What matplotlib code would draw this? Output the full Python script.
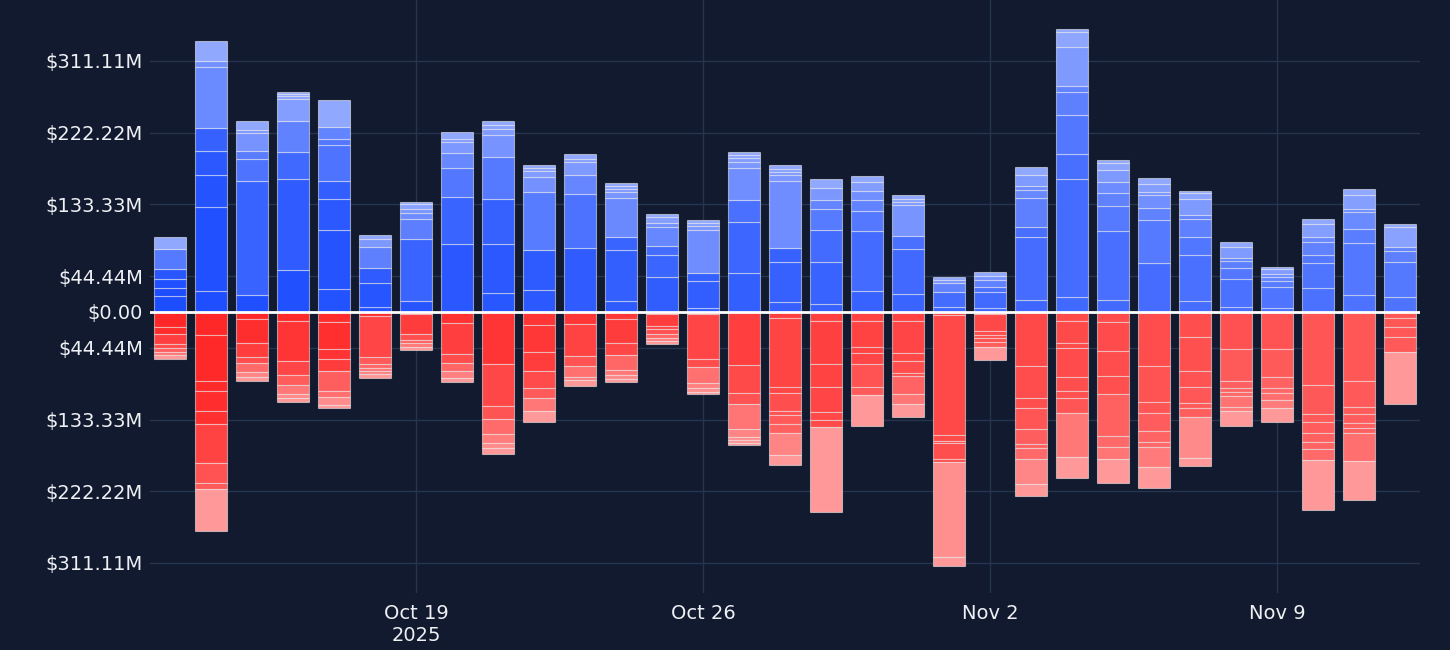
import numpy as np
import pandas as pd
import matplotlib
matplotlib.use("Agg")
import matplotlib.pyplot as plt
import matplotlib.dates as mdates
from matplotlib.ticker import FixedLocator, FuncFormatter

# Dias (um por barra)
dias = pd.date_range("2025-10-13", "2025-11-12", freq="D")

# Entradas (milhões de USD), segmentos empilhados a partir de zero
entradas = [
    [19.8, 9.5, 11.2, 12.4, 24.8, 14.9],
    [26.0, 103.8, 39.6, 29.8, 28.5, 75.6, 8.2, 24.8],
    [20.7, 141.3, 27.3, 9.9, 22.3, 3.7, 11.5],
    [52.1, 112.7, 33.1, 38.8, 27.7, 2.9, 2.9, 2.5],
    [28.5, 72.7, 39.3, 21.5, 44.6, 7.4, 14.9, 33.9],
    [6.6, 29.8, 17.8, 26.8, 9.1, 4.9],
    [13.6, 76.5, 25.2, 7.8, 5.0, 5.8, 2.4],
    [83.9, 59.0, 35.2, 18.6, 14.4, 2.9, 8.7],
    [23.1, 60.8, 55.8, 52.0, 27.7, 7.0, 5.4, 4.5],
    [27.3, 49.5, 71.6, 18.6, 7.4, 3.7, 3.7],
    [79.0, 67.3, 23.5, 15.7, 3.8, 6.5],
    [14.0, 62.5, 16.8, 47.6, 7.5, 3.7, 4.1, 3.7],
    [43.4, 27.6, 11.2, 23.2, 5.3, 7.4, 3.7],
    [5.4, 33.4, 9.2, 53.6, 5.0, 3.3, 3.7],
    [48.0, 63.2, 27.6, 39.3, 8.2, 4.2, 4.1, 4.1],
    [12.0, 49.6, 17.7, 82.7, 7.8, 3.4, 3.7, 5.3],
    [9.9, 52.1, 39.6, 26.1, 11.1, 15.3, 10.4],
    [26.0, 74.4, 25.2, 13.2, 11.5, 10.5, 7.4],
    [21.9, 56.2, 16.5, 37.6, 3.8, 4.1, 4.5],
    [5.8, 18.6, 11.2, 4.1, 3.7],
    [5.4, 19.4, 6.6, 8.3, 5.3, 4.2],
    [14.9, 78.4, 12.4, 35.2, 10.3, 5.3, 13.3, 10.3],
    [19.0, 145.5, 31.0, 48.7, 28.1, 8.2, 48.4, 18.2, 3.3],
    [14.9, 85.5, 30.6, 16.9, 13.2, 14.9, 9.1, 2.9],
    [61.1, 52.5, 15.7, 15.7, 4.1, 9.2, 7.4],
    [13.6, 56.7, 23.0, 21.6, 5.3, 19.5, 7.4, 2.9],
    [6.6, 34.3, 14.0, 8.3, 3.4, 14.4, 5.4],
    [4.6, 26.0, 7.8, 5.4, 3.3, 5.8, 3.2],
    [30.1, 30.3, 9.9, 16.1, 6.2, 16.5, 5.8],
    [20.7, 64.4, 17.4, 21.1, 4.1, 17.3, 7.1],
    [19.0, 42.6, 14.4, 5.0, 24.0, 3.7],
]

# Saídas (milhões de USD), empilhadas para baixo
saidas = [
    [18.2, 9.5, 12.4, 4.1, 5.0, 4.1, 5.4],
    [28.5, 56.6, 13.2, 24.4, 16.5, 48.0, 24.4, 8.2, 51.2],
    [9.1, 28.9, 17.4, 8.2, 10.8, 6.5, 4.2],
    [10.7, 50.4, 16.6, 13.2, 10.7, 5.0, 4.6],
    [12.0, 34.3, 12.0, 14.5, 25.1, 7.9, 9.8, 3.8],
    [5.0, 50.4, 9.4, 4.2, 4.1, 3.7, 4.6],
    [2.5, 25.2, 7.0, 4.1, 4.2, 4.1],
    [14.0, 38.1, 10.7, 10.7, 7.9, 5.8],
    [64.0, 52.5, 16.1, 18.2, 11.2, 7.0, 6.6],
    [16.1, 33.9, 23.5, 20.3, 12.4, 16.5, 13.2],
    [15.3, 39.2, 12.4, 13.3, 4.1, 7.0],
    [9.1, 29.7, 14.5, 18.6, 6.2, 4.9, 3.8],
    [2.5, 14.9, 4.1, 6.2, 4.1, 4.1, 3.3],
    [2.9, 55.8, 9.1, 20.6, 6.2, 4.2, 3.3],
    [65.7, 35.1, 13.6, 31.0, 9.2, 4.1, 3.3, 2.8],
    [7.9, 84.7, 8.2, 21.5, 5.4, 11.5, 10.4, 27.6, 12.4],
    [11.2, 53.6, 28.5, 30.3, 10.3, 8.3, 105.3],
    [11.2, 32.6, 6.6, 13.6, 28.6, 10.3, 38.0],
    [10.7, 40.5, 9.5, 14.5, 4.1, 22.3, 12.4, 16.1],
    [3.7, 148.8, 7.0, 3.2, 19.9, 2.9, 118.5, 10.4],
    [2.9, 20.2, 5.4, 4.1, 4.2, 6.2, 16.9],
    [66.5, 39.7, 13.2, 25.6, 19.0, 5.0, 13.2, 31.0, 14.5],
    [11.2, 26.8, 6.2, 36.0, 17.3, 9.5, 18.6, 54.5, 26.1],
    [12.4, 36.3, 31.0, 21.5, 52.1, 14.0, 14.5, 30.5],
    [66.9, 45.0, 13.7, 21.9, 14.0, 6.2, 24.0, 26.1],
    [31.4, 41.7, 19.5, 19.8, 7.0, 10.4, 50.8, 10.3],
    [46.3, 38.8, 9.5, 5.0, 4.1, 13.6, 5.4, 18.2],
    [46.3, 33.9, 14.4, 6.2, 8.3, 10.3, 17.4],
    [90.5, 36.3, 9.9, 13.6, 11.2, 8.3, 13.6, 62.0],
    [85.1, 33.0, 8.7, 11.2, 6.2, 6.1, 34.0, 49.1],
    [7.0, 12.0, 11.6, 18.6, 65.2],
]

# Marcas do eixo y e do eixo x
ticks_y = [-311.11, -222.22, -133.33, -44.44, 0.0, 44.44, 133.33, 222.22, 311.11]
ticks_x = ["2025-10-19", "2025-10-26", "2025-11-02", "2025-11-09"]
rotulos_x = ["Oct 19\n2025", "Oct 26", "Nov 2", "Nov 9"]

FUNDO = "#111a2e"
GRADE = "#27344f"
TEXTO = "#eef0f4"
AZUL_ESCURO = np.array([0.11, 0.30, 1.00])
AZUL_CLARO = np.array([0.57, 0.66, 1.00])
VERM_ESCURO = np.array([1.00, 0.15, 0.15])
VERM_CLARO = np.array([1.00, 0.60, 0.60])


def cor_segmento(escuro, claro, i_dia, fracao):
    # mais claro para o fim do período e para longe do zero
    base = 0.42 * i_dia / (len(dias) - 1)
    t = base + (1 - base) * fracao ** 4
    return tuple(escuro + (claro - escuro) * min(t, 1.0))


def empilhar(ax, x, segmentos, sinal, escuro, claro, i_dia):
    total = sum(segmentos)
    acumulado = 0.0
    for v in segmentos:
        fracao = (acumulado + v) / total
        ax.bar(x, sinal * v, bottom=sinal * acumulado, width=0.8,
               color=cor_segmento(escuro, claro, i_dia, fracao),
               edgecolor=(1, 1, 1, 0.5), linewidth=0.8, zorder=3)
        acumulado += v


fig = plt.figure(figsize=(14.5, 6.5), dpi=100, facecolor=FUNDO)
ax = fig.add_axes([150 / 1450, 57 / 650, 1270 / 1450, 593 / 650])
ax.set_facecolor(FUNDO)

xs = mdates.date2num(dias)
for i, x in enumerate(xs):
    empilhar(ax, x, entradas[i], 1, AZUL_ESCURO, AZUL_CLARO, i)
    empilhar(ax, x, saidas[i], -1, VERM_ESCURO, VERM_CLARO, i)

ax.axhline(0, color="white", linewidth=2, zorder=4)

ax.set_xlim(xs[0] - 0.49, xs[-1] + 0.49)
ax.set_ylim(-348.3, 386.7)

ax.yaxis.set_major_locator(FixedLocator(ticks_y))
ax.yaxis.set_major_formatter(FuncFormatter(
    lambda v, pos: "$0.00" if abs(v) < 1e-9 else f"${abs(v):.2f}M"))
ax.set_xticks(mdates.date2num(pd.to_datetime(ticks_x)))
ax.set_xticklabels(rotulos_x)

ax.grid(True, color=GRADE, linewidth=1, zorder=0)
ax.tick_params(axis="both", length=0, labelsize=14, colors=TEXTO)
ax.tick_params(axis="y", pad=5)
ax.tick_params(axis="x", pad=8)
for s in ax.spines.values():
    s.set_visible(False)

fig.savefig("out.png", dpi=100, facecolor=FUNDO)
